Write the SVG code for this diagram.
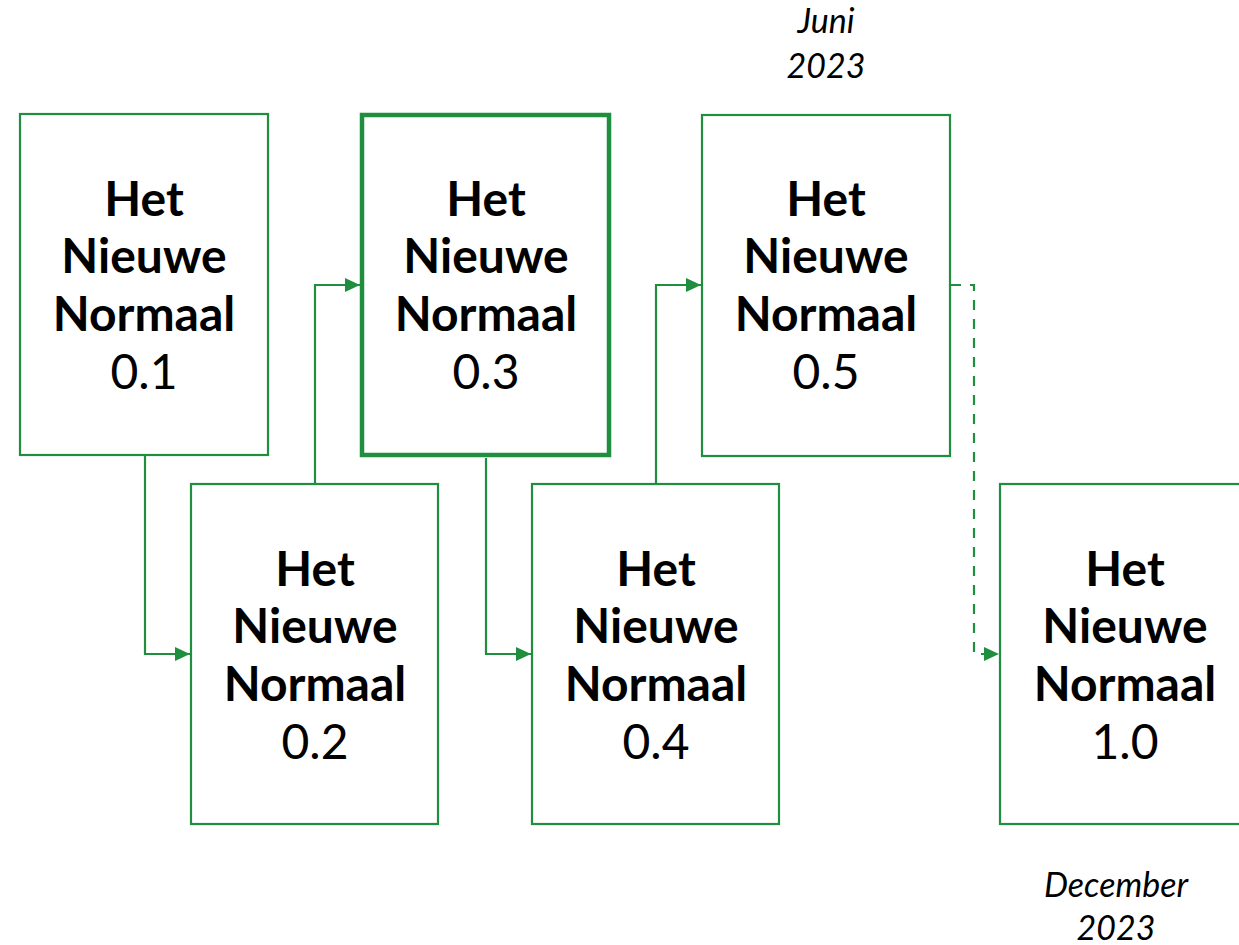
<svg xmlns="http://www.w3.org/2000/svg" width="1239" height="945" viewBox="0 0 1239 945">
<style>
.box{fill:#fff;stroke:#1f8f3f;stroke-width:2.2}
.hl{stroke-width:4.5}
.t{font-family:Lato,"Noto Sans",sans-serif;font-size:48px;fill:#000;text-anchor:middle}
.b{font-weight:bold}
.d{font-family:Lato,"Noto Sans",sans-serif;font-size:34px;font-style:italic;fill:#000;text-anchor:middle}
.c{fill:none;stroke:#1f8f3f;stroke-width:2.2}
.dash{stroke-dasharray:10 9}
</style>
<defs>
<marker id="ah" viewBox="0 0 15 14" refX="15" refY="7" markerWidth="15" markerHeight="14" markerUnits="userSpaceOnUse" orient="auto">
<path d="M0,0 L15,7 L0,14 Z" fill="#1f8f3f"/>
</marker>
</defs>
<rect width="1239" height="945" fill="#fff"/>
<g id="connectors">
<path class="c" d="M145,456 V654 H190" style="marker-end:url(#ah)"/>
<path class="c" d="M315,484 V285 H360" style="marker-end:url(#ah)"/>
<path class="c" d="M486,458 V654 H531" style="marker-end:url(#ah)"/>
<path class="c" d="M656,484 V285 H701" style="marker-end:url(#ah)"/>
<path class="c dash" d="M951,285 H974 V654 H999" style="marker-end:url(#ah)"/>
</g>
<g id="n1">
<rect class="box" x="20" y="114" width="248" height="341"/>
<text class="t b" x="144" y="216">Het</text>
<text class="t b" x="144" y="273">Nieuwe</text>
<text class="t b" x="144" y="331">Normaal</text>
<text class="t" x="144" y="389">0.1</text>
</g>
<g id="n2">
<rect class="box" x="191" y="484" width="247" height="340"/>
<text class="t b" x="315" y="586">Het</text>
<text class="t b" x="315" y="643">Nieuwe</text>
<text class="t b" x="315" y="701">Normaal</text>
<text class="t" x="315" y="759">0.2</text>
</g>
<g id="n3">
<rect class="box hl" x="362" y="115" width="247" height="340"/>
<text class="t b" x="486" y="216">Het</text>
<text class="t b" x="486" y="273">Nieuwe</text>
<text class="t b" x="486" y="331">Normaal</text>
<text class="t" x="486" y="389">0.3</text>
</g>
<g id="n4">
<rect class="box" x="532" y="484" width="247" height="340"/>
<text class="t b" x="656" y="586">Het</text>
<text class="t b" x="656" y="643">Nieuwe</text>
<text class="t b" x="656" y="701">Normaal</text>
<text class="t" x="656" y="759">0.4</text>
</g>
<g id="n5">
<rect class="box" x="702" y="115" width="248" height="341"/>
<text class="t b" x="826" y="216">Het</text>
<text class="t b" x="826" y="273">Nieuwe</text>
<text class="t b" x="826" y="331">Normaal</text>
<text class="t" x="826" y="389">0.5</text>
</g>
<g id="n6">
<rect class="box" x="1000" y="484" width="250" height="340"/>
<text class="t b" x="1125" y="586">Het</text>
<text class="t b" x="1125" y="643">Nieuwe</text>
<text class="t b" x="1125" y="701">Normaal</text>
<text class="t" x="1125" y="759">1.0</text>
</g>
<g id="labels">
<text class="d" x="826" y="33">Juni</text>
<text class="d" x="826" y="78">2023</text>
<text class="d" x="1116" y="897">December</text>
<text class="d" x="1116" y="940">2023</text>
</g>
</svg>
